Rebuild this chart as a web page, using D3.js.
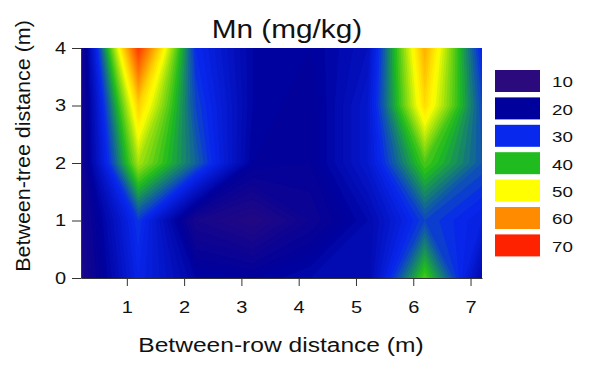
<!DOCTYPE html>
<html>
<head>
<meta charset="utf-8">
<script src="https://cdn.jsdelivr.net/npm/d3@7"></script>
<style>
  body { margin: 0; background: #fff; }
  text { font-family: Arial, "Liberation Sans", sans-serif; fill: #111; }
</style>
</head>
<body>
<script>
// grid positions (m)
var rowDist = [0.2, 1.2, 2.2, 3.2, 4.2, 5.2, 6.2, 7.2];
var treeDist = [0, 1, 2, 3, 4];

// Mn (mg/kg), one array per between-tree distance
var mnAt0 = [14, 29, 21, 20, 22, 22, 42, 22];
var mnAt1 = [15, 31, 15, 12, 17, 22, 32, 28];
var mnAt2 = [16, 46, 34, 20, 19, 26, 42, 33];
var mnAt3 = [15, 54, 32, 21, 19, 26, 53, 32];
var mnAt4 = [15, 68, 30, 21, 20, 24, 57, 29];

var legendLevels = [10, 20, 30, 40, 50, 60, 70];
var legendColors = ["#2b0a7d", "#00009c", "#0828ee", "#1fbb1f", "#ffff00", "#ff8c00", "#ff2200"];

var xTicks = [1, 2, 3, 4, 5, 6, 7];
var yTicks = [0, 1, 2, 3, 4];

var margin = {top: 48, left: 81};
var width = 401, height = 230;

// the original lettering is wider than Arial
function stretch(sel, k) {
  sel.each(function() {
    var w = this.getComputedTextLength();
    d3.select(this).attr("textLength", w * k).attr("lengthAdjust", "spacingAndGlyphs");
  });
}

var svg = d3.select("body").append("svg")
  .attr("width", 590)
  .attr("height", 365);

var g = svg.append("g")
  .attr("transform", "translate(" + margin.left + "," + margin.top + ")");

var x = d3.scaleLinear().domain([0.2, 7.2]).range([0, width]);
var y = d3.scaleLinear().domain([0, 4]).range([height, 0]);

var color = d3.scaleLinear()
  .domain(legendLevels)
  .range(legendColors)
  .clamp(true);

// grid values, row j = treeDist[j]
var rows = [mnAt0, mnAt1, mnAt2, mnAt3, mnAt4];
var values = [];
rows.forEach(function(r) { r.forEach(function(v) { values.push(v); }); });

var thresholds = d3.range(8, 73, 1);
var contours = d3.contours()
  .size([rowDist.length, treeDist.length])
  .thresholds(thresholds)(values);

// grid index -> data coords -> pixels
var proj = d3.geoTransform({
  point: function(px, py) {
    var i = px - 0.5, j = py - 0.5;
    var dx = rowDist[0] + i * (rowDist[1] - rowDist[0]);
    var dy = treeDist[0] + j * (treeDist[1] - treeDist[0]);
    this.stream.point(x(dx), y(dy));
  }
});
var path = d3.geoPath(proj);

svg.append("defs").append("clipPath").attr("id", "plotclip")
  .append("rect")
  .attr("width", width)
  .attr("height", height);

var plot = g.append("g").attr("clip-path", "url(#plotclip)");

plot.append("rect")
  .attr("width", width)
  .attr("height", height)
  .attr("fill", color(d3.min(values)));

plot.selectAll("path")
  .data(contours)
  .enter()
  .append("path")
  .attr("d", path)
  .attr("fill", function(d) { return color(d.value + 0.5); })
  .attr("stroke", "none");

// axes
var xAxis = g.append("g")
  .attr("transform", "translate(0," + height + ")")
  .call(d3.axisBottom(x).tickValues(xTicks).tickFormat(d3.format("d")).tickSize(8).tickSizeOuter(0).tickPadding(16));

var yAxis = g.append("g")
  .call(d3.axisLeft(y).tickValues(yTicks).tickFormat(d3.format("d")).tickSize(9).tickSizeOuter(0).tickPadding(6));

[xAxis, yAxis].forEach(function(a) {
  a.select(".domain").attr("stroke", "#333");
  a.selectAll(".tick line").attr("stroke", "#333");
  a.selectAll("text")
    .style("font-size", "16px")
    .attr("fill", "#111")
    .call(stretch, 1.25);
});

// title
svg.append("text")
  .attr("x", 287)
  .attr("y", 38)
  .style("text-anchor", "middle")
  .style("font-size", "25px")
  .text("Mn (mg/kg)")
  .call(stretch, 1.19);

// xlabel
svg.append("text")
  .attr("x", 281)
  .attr("y", 352)
  .style("text-anchor", "middle")
  .style("font-size", "19.5px")
  .text("Between-row distance (m)")
  .call(stretch, 1.26);

// ylabel
svg.append("text")
  .attr("transform", "translate(30,146)rotate(-90)")
  .style("text-anchor", "middle")
  .style("font-size", "19.5px")
  .text("Between-tree distance (m)")
  .call(stretch, 1.1);

// legend
var legend = svg.append("g").attr("transform", "translate(495,70)");
var item = legend.selectAll("g")
  .data(legendLevels)
  .enter()
  .append("g")
  .attr("transform", function(d, i) { return "translate(0," + (i * 27.4) + ")"; });

item.append("rect")
  .attr("width", 45)
  .attr("height", 22)
  .attr("fill", function(d, i) { return legendColors[i]; });

item.append("text")
  .attr("x", 57)
  .attr("y", 12)
  .attr("dy", "0.36em")
  .style("font-size", "15px")
  .text(function(d) { return d; })
  .call(stretch, 1.25);
</script>
</body>
</html>
